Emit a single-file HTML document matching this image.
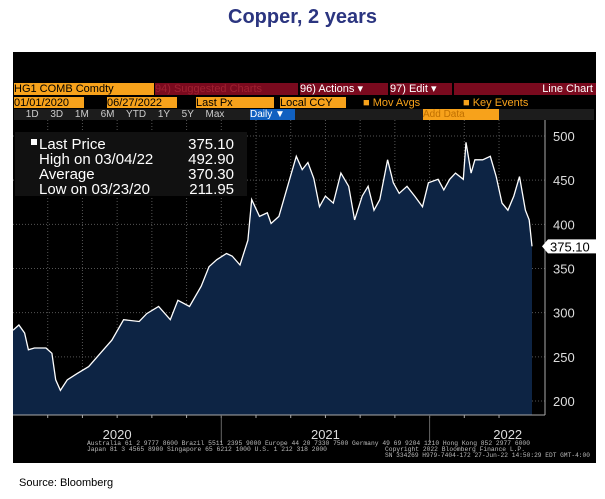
<!DOCTYPE html>
<html><head><meta charset="utf-8"><style>
body{margin:0;width:605px;height:499px;background:#fff;overflow:hidden;font-family:"Liberation Sans",sans-serif;position:relative}
#title{position:absolute;top:6px;left:0;width:605px;text-align:center;font-weight:bold;font-size:20px;color:#2b3580}
#panel{position:absolute;left:13px;top:52px;width:583px;height:411px;background:#000}
.tb{position:absolute;font-size:11px;line-height:12px;white-space:nowrap;overflow:hidden}
#src{position:absolute;left:19px;top:477px;font-size:11px;color:#000}
</style></head><body>
<div id="title">Copper, 2 years</div>
<div id="panel">
<div class="tb" style="left:1px;top:31px;width:140px;height:12px;background:#f7a21b;color:#000">HG1 COMB Comdty</div>
<div class="tb" style="left:142px;top:31px;width:143px;height:12px;background:#7a0a1e;color:#a02030">94) Suggested Charts</div>
<div class="tb" style="left:287px;top:31px;width:88px;height:12px;background:#7a0a1e;color:#fff">96) Actions ▾</div>
<div class="tb" style="left:377px;top:31px;width:62px;height:12px;background:#7a0a1e;color:#fff">97) Edit ▾</div>
<div class="tb" style="left:441px;top:31px;width:142px;height:12px;background:#7a0a1e;color:#fff;text-align:right">Line Chart&nbsp;</div>
<div class="tb" style="left:1px;top:45px;width:70px;height:11px;background:#f7a21b;color:#000">01/01/2020</div>
<div class="tb" style="left:94px;top:45px;width:70px;height:11px;background:#f7a21b;color:#000">06/27/2022</div>
<div class="tb" style="left:183px;top:45px;width:78px;height:11px;background:#f7a21b;color:#000">Last Px</div>
<div class="tb" style="left:267px;top:45px;width:66px;height:11px;background:#f7a21b;color:#000">Local CCY</div>
<div class="tb" style="left:350px;top:45px;width:100px;color:#f7a21b">■ Mov Avgs</div>
<div class="tb" style="left:450px;top:45px;width:90px;color:#f7a21b">■ Key Events</div>
<div class="tb" style="left:1px;top:57px;width:580px;height:11px;background:#1c1c1c;color:#ccc;font-size:10px;word-spacing:9px">&nbsp;1D 3D 1M 6M YTD 1Y 5Y Max</div>
<div class="tb" style="left:237px;top:57px;width:45px;height:11px;background:#1060c0;color:#fff;font-size:10px">Daily ▼</div>
<div class="tb" style="left:410px;top:57px;width:76px;height:11px;background:#f7a21b;color:#c07000;font-size:10px">Add Data</div>
<svg id="chart" width="583" height="411" style="position:absolute;left:0;top:0"></svg>
</div>
<div id="src">Source: Bloomberg</div>
<script>
const months=[0,0.34,0.67,0.89,1.23,1.9,2.24,2.46,2.73,3.13,3.69,4.36,5.03,5.7,6.37,7.27,7.71,8.39,9.06,9.5,10.17,10.84,11.29,11.74,12.3,12.63,13.08,13.53,13.75,14.2,14.65,14.87,15.32,15.88,16.32,16.66,16.99,17.33,17.66,18.0,18.45,18.89,19.34,19.68,20.12,20.46,20.8,21.13,21.58,21.91,22.25,22.7,23.14,23.59,23.93,24.49,24.82,25.16,25.49,25.94,26.1,26.39,26.61,27.06,27.5,27.84,28.17,28.51,28.85,29.18,29.52,29.74,29.9];
const prices=[280,286,277,258,260,260,254,224,212,224,231,239,254,269,292,290,299,307,292,314,307,330,352,360,367,364,354,382,428,409,413,401,409,447,477,462,470,452,420,432,424,458,443,405,432,443,416,428,473,447,435,443,432,420,447,451,439,451,458,451,492.9,458,473,473,477,454,424,416,432,454,416,405,375.1];
const yTicks=[200,250,300,350,400,450,500];
const yearLabels=["2020","2021","2022"];
const yearMonths=[6,18,28.5];
const yearSeps=[12,24];
const gridMonths=[2,4,6,8,10,12,14,16,18,20,22,24,26,28];
const lastLabel="375.10";
const stats=[["Last Price","375.10"],["High on 03/04/22","492.90"],["Average","370.30"],["Low on 03/23/20","211.95"]];
const NS="http://www.w3.org/2000/svg";
const svg=document.getElementById('chart');
const X0=0,X1=519,TOP=68,BOT=363,AX=532;
const xs=m=>X0+m/29.9*(X1-X0);
const ys=v=>(401-52)-(v-200)*(265/300);
function mk(t,a){const e=document.createElementNS(NS,t);for(const k in a)e.setAttribute(k,a[k]);svg.appendChild(e);return e;}
let e;
yTicks.forEach(v=>{e=mk('line',{x1:0,x2:AX,y1:ys(v),y2:ys(v),stroke:'#555','stroke-dasharray':'1,2'});


e=mk('text',{x:AX+8,y:ys(v)+5,fill:'#ddd','font-size':13,'font-family':'Liberation Sans'});e.textContent=v;

});
gridMonths.forEach(m=>{e=mk('line',{x1:xs(m),x2:xs(m),y1:TOP,y2:BOT,stroke:'#555','stroke-dasharray':'1,2'});

});
let d='M'+xs(months[0])+','+BOT;
months.forEach((m,i)=>{d+=' L'+xs(m).toFixed(1)+','+ys(prices[i]).toFixed(1);});
d+=' L'+xs(months[months.length-1])+','+BOT+' Z';
e=mk('path',{d:d,fill:'#0d2444'});


let l='';months.forEach((m,i)=>{l+=(i?' L':'M')+xs(m).toFixed(1)+','+ys(prices[i]).toFixed(1);});
e=mk('path',{d:l,fill:'none',stroke:'#fff','stroke-width':1.3});


gridMonths.forEach(m=>{mk('line',{x1:xs(m),x2:xs(m),y1:BOT,y2:BOT+3,stroke:'#aaa'});});
e=mk('line',{x1:0,x2:AX,y1:BOT,y2:BOT,stroke:'#aaa'});


e=mk('line',{x1:AX,x2:AX,y1:TOP,y2:BOT,stroke:'#aaa'});


yearSeps.forEach(m=>{mk('line',{x1:xs(m),x2:xs(m),y1:BOT,y2:BOT+28,stroke:'#666'});});
yearLabels.forEach((t,i)=>{e=mk('text',{x:xs(yearMonths[i]),y:BOT+24,fill:'#ddd','font-size':13,'text-anchor':'middle','font-family':'Liberation Sans'});e.textContent=t;

});
const yl=ys(prices[prices.length-1]);
e=mk('path',{d:`M${AX-3},${yl} L${AX+3},${yl-7} L583,${yl-7} L583,${yl+7} L${AX+3},${yl+7} Z`,fill:'#fff'});


e=mk('text',{x:AX+5,y:yl+5,fill:'#000','font-size':13,'font-family':'Liberation Sans'});e.textContent=lastLabel;


e=mk('rect',{x:2,y:80,width:232,height:64,fill:'#111'});


stats.forEach((s,i)=>{const y=97+i*15;
e=mk('text',{x:26,y:y,fill:'#fff','font-size':15,'font-family':'Liberation Sans'});e.textContent=s[0];


e=mk('text',{x:221,y:y,fill:'#fff','font-size':15,'text-anchor':'end','font-family':'Liberation Sans'});e.textContent=s[1];

});
mk('rect',{x:18,y:87,width:6,height:6,fill:'#fff'});
e=mk('text',{x:74,y:BOT+30,fill:'#bbb','font-size':6,'font-family':'Liberation Mono',textLength:443,lengthAdjust:'spacingAndGlyphs'});e.textContent='Australia 61 2 9777 8600 Brazil 5511 2395 9000 Europe 44 20 7330 7500 Germany 49 69 9204 1210 Hong Kong 852 2977 6000';


e=mk('text',{x:74,y:BOT+36,fill:'#bbb','font-size':6,'font-family':'Liberation Mono',textLength:240,lengthAdjust:'spacingAndGlyphs'});e.textContent='Japan 81 3 4565 8900      Singapore 65 6212 1000      U.S. 1 212 318 2000';


e=mk('text',{x:372,y:BOT+36,fill:'#bbb','font-size':6,'font-family':'Liberation Mono',textLength:140,lengthAdjust:'spacingAndGlyphs'});e.textContent='Copyright 2022 Bloomberg Finance L.P.';


e=mk('text',{x:372,y:BOT+42,fill:'#bbb','font-size':6,'font-family':'Liberation Mono',textLength:205,lengthAdjust:'spacingAndGlyphs'});e.textContent='SN 334269 H979-7404-172 27-Jun-22 14:50:29 EDT  GMT-4:00';


</script>
</body></html>
